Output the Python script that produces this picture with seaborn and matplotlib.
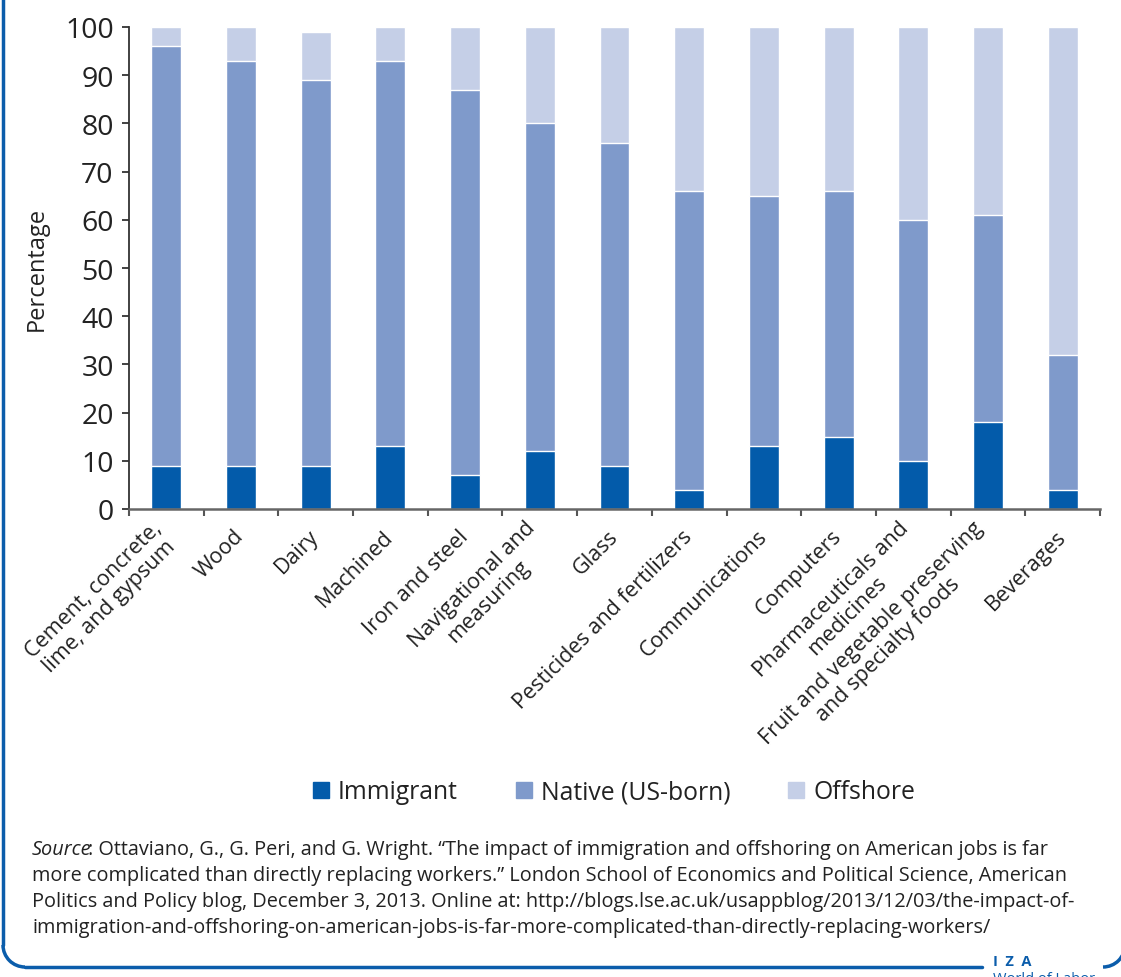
import numpy as np
import pandas as pd
import matplotlib
matplotlib.use("Agg")
import matplotlib.pyplot as plt
import seaborn as sns
from matplotlib.patches import Arc
from matplotlib.lines import Line2D
from matplotlib.transforms import ScaledTranslation

categories = ["Cement, concrete,\nlime, and gypsum", "Wood", "Dairy", "Machined",
              "Iron and steel", "Navigational and\nmeasuring", "Glass",
              "Pesticides and fertilizers", "Communications", "Computers",
              "Pharmaceuticals and\nmedicines", "Fruit and vegetable preserving\nand specialty foods",
              "Beverages"]
immigrant = [9, 9, 9, 13, 7, 12, 9, 4, 13, 15, 10, 18, 4]
native = [87, 84, 80, 80, 80, 68, 67, 62, 52, 51, 50, 43, 28]
offshore = [4, 7, 10, 7, 13, 20, 24, 34, 35, 34, 40, 39, 68]
series_names = ["Immigrant", "Native (US-born)", "Offshore"]
yticks = [0, 10, 20, 30, 40, 50, 60, 70, 80, 90, 100]

c_imm = "#035BAA"
c_nat = "#7F9ACB"
c_off = "#C5CFE7"
blue = "#0B5DAB"
txt = "#222222"

sns.set_theme(style="white")
FONT = ["Open Sans", "DejaVu Sans"]
plt.rcParams["font.family"] = FONT

df = pd.DataFrame({"cat": categories, "imm": immigrant, "nat": native, "off": offshore})
df["top_nat"] = df["imm"] + df["nat"]
df["top_off"] = df["top_nat"] + df["off"]

fig = plt.figure(figsize=(11.21, 9.78), dpi=100)
ax = fig.add_axes([129/1121, 1-510/978, (1100-129)/1121, (510-28)/978])

sns.barplot(data=df, x="cat", y="top_off", color=c_off, width=0.4, saturation=1, ax=ax, order=categories)
sns.barplot(data=df, x="cat", y="top_nat", color=c_nat, width=0.4, saturation=1, ax=ax, order=categories)
sns.barplot(data=df, x="cat", y="imm", color=c_imm, width=0.4, saturation=1, ax=ax, order=categories)

ax.set_xlim(-0.5, len(categories) - 0.5)
ax.set_ylim(0, 100)
ax.set_yticks(yticks)
ax.set_yticklabels([str(v) for v in yticks], fontsize=20.5, color=txt)
ax.set_xticks(np.arange(-0.5, len(categories), 1))
ax.set_xticklabels([""] * (len(categories) + 1))
ax.set_xticks(np.arange(len(categories)), minor=True)
ax.set_xticklabels(categories, minor=True, rotation=45, ha="right", va="center", rotation_mode="anchor",
                   fontsize=15.5, color=txt, multialignment="center", linespacing=1.12)
off = ScaledTranslation(6/100, 0, fig.dpi_scale_trans)
for lab in ax.get_xticklabels(minor=True):
    lab.set_transform(lab.get_transform() + off)
ax.tick_params(axis="x", which="major", length=5, width=1.5, color="#555555", direction="out", bottom=True)
ax.tick_params(axis="x", which="minor", length=0, pad=17, bottom=True)
ax.tick_params(axis="y", which="major", length=5, width=1.3, color="#333333", direction="out", left=True, pad=6)
ax.set_xlabel("")
ax.set_ylabel("Percentage", fontsize=17, color=txt, labelpad=12)
for s in ["top", "right"]:
    ax.spines[s].set_visible(False)
ax.spines["bottom"].set_color("#666666")
ax.spines["bottom"].set_linewidth(1.8)
ax.spines["left"].set_color("#333333")
ax.spines["left"].set_linewidth(1.3)

handles = [plt.Rectangle((0, 0), 1, 1, color=c) for c in [c_imm, c_nat, c_off]]
fig.legend(handles, series_names, loc="center", bbox_to_anchor=(614/1121, 1-793/978), ncol=3,
           frameon=False, fontsize=17.8, handlelength=0.65, handleheight=0.65, columnspacing=2.35,
           handletextpad=0.35, labelcolor=txt)

# source note
y1 = 1 - 855/978
fs = 14.3
t1 = fig.text(32/1121, y1, "Source", fontsize=fs, style="italic", color=txt, va="baseline")
fig.canvas.draw()
bb = t1.get_window_extent(renderer=fig.canvas.get_renderer())
fig.text((bb.x1 - 3)/1121, y1,
         ": Ottaviano, G., G. Peri, and G. Wright. \u201cThe impact of immigration and offshoring on American jobs is far",
         fontsize=fs, color=txt, va="baseline")
lines = ["more complicated than directly replacing workers.\u201d London School of Economics and Political Science, American",
         "Politics and Policy blog, December 3, 2013. Online at: http://blogs.lse.ac.uk/usappblog/2013/12/03/the-impact-of-",
         "immigration-and-offshoring-on-american-jobs-is-far-more-complicated-than-directly-replacing-workers/"]
for i, ln in enumerate(lines):
    fig.text(32/1121, y1 - (i + 1) * 26/978, ln, fontsize=fs, color=txt, va="baseline")

# frame
fx = lambda px: px/1121
fy = lambda py: 1 - py/978
r = 22
fig.add_artist(Line2D([fx(3), fx(3)], [fy(0), fy(968 - r)], color=blue, lw=2.5, transform=fig.transFigure))
fig.add_artist(Arc((fx(3 + r), fy(968 - r)), 2*r/1121, 2*r/978, theta1=180, theta2=270,
                   color=blue, lw=2.5, transform=fig.transFigure))
fig.add_artist(Line2D([fx(3 + r), fx(982)], [fy(968), fy(968)], color=blue, lw=2.5, transform=fig.transFigure))
fig.add_artist(Arc((fx(1103), fy(968 - r)), 2*r/1121, 2*r/978, theta1=270, theta2=360,
                   color=blue, lw=2.5, transform=fig.transFigure))
fig.text(fx(993), fy(966), "I  Z  A", fontsize=10.5, fontweight="bold", color=blue, va="baseline")
fig.text(fx(993), fy(983), "World of Labor", fontsize=10.5, color=blue, va="baseline")

fig.savefig("out.png", dpi=100)
